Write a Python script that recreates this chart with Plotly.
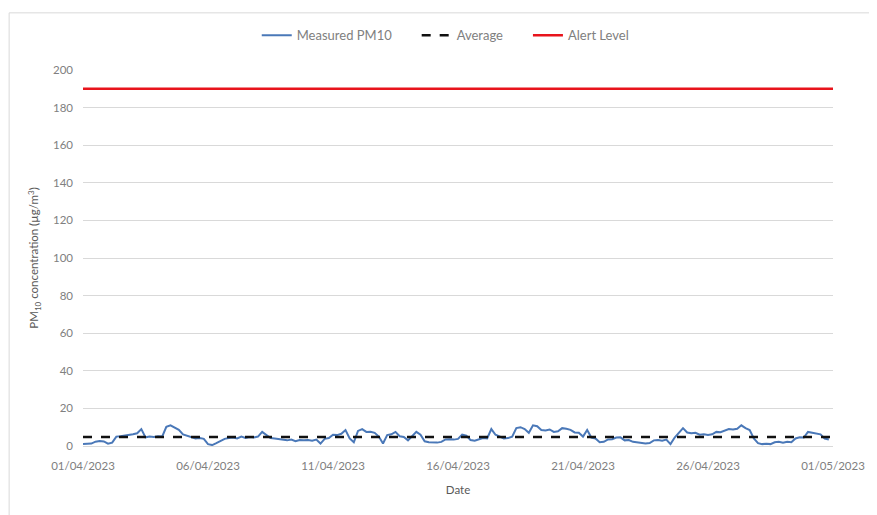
import pandas as pd
import plotly.graph_objects as go

# 4-hourly measured PM10 (µg/m³), 01/04/2023 00:00 to 30/04/2023 20:00, six readings per day
pm10_by_day = [
    [1.0, 1.1, 1.3, 2.3, 2.6, 2.4],
    [1.2, 1.8, 5.0, 5.2, 5.5, 6.0],
    [6.3, 6.8, 9.0, 4.6, 5.0, 4.8],
    [5.2, 5.0, 10.2, 11.0, 9.8, 8.6],
    [6.2, 5.5, 4.5, 4.0, 4.2, 3.8],
    [1.0, 0.5, 1.5, 2.5, 3.8, 4.2],
    [4.5, 4.0, 5.0, 4.3, 4.8, 4.5],
    [5.0, 7.5, 6.0, 4.2, 4.0, 3.8],
    [3.5, 3.0, 3.4, 2.6, 3.2, 3.0],
    [3.2, 2.8, 3.4, 1.3, 3.8, 4.2],
    [6.0, 5.8, 6.5, 8.5, 4.0, 2.0],
    [8.0, 9.0, 7.5, 7.6, 7.0, 5.0],
    [1.3, 5.8, 6.2, 7.5, 5.2, 4.8],
    [3.0, 5.5, 7.5, 6.0, 2.5, 2.0],
    [2.0, 1.8, 2.2, 3.5, 3.6, 3.4],
    [3.8, 6.0, 5.5, 3.2, 2.8, 3.5],
    [4.2, 4.0, 9.0, 6.0, 5.2, 4.0],
    [4.2, 5.0, 9.5, 10.0, 9.0, 7.0],
    [11.0, 10.5, 8.5, 8.2, 8.8, 7.5],
    [7.8, 9.5, 9.2, 8.6, 7.2, 7.0],
    [5.0, 8.5, 4.5, 4.0, 2.0, 2.2],
    [3.5, 3.6, 4.5, 4.6, 3.0, 3.2],
    [2.2, 2.0, 1.8, 1.3, 1.6, 3.0],
    [3.2, 2.8, 3.4, 1.0, 4.5, 7.0],
    [9.5, 7.2, 6.8, 7.0, 6.0, 6.2],
    [5.8, 6.2, 7.5, 7.3, 8.0, 9.0],
    [8.8, 9.2, 11.0, 9.5, 8.5, 4.0],
    [1.5, 1.0, 1.2, 1.0, 2.0, 2.2],
    [1.8, 2.2, 2.0, 4.0, 4.6, 4.5],
    [7.5, 7.0, 6.5, 6.2, 4.0, 3.5],
]
average_level = 4.8
alert_level = 190
series_names = ["Measured PM10", "Average", "Alert Level"]
start_date = "2023-04-01"
end_date = "2023-05-01"
tick_dates = ["2023-04-01", "2023-04-06", "2023-04-11", "2023-04-16",
              "2023-04-21", "2023-04-26", "2023-05-01"]
y_ticks = [0, 20, 40, 60, 80, 100, 120, 140, 160, 180, 200]

pm10 = [v for day in pm10_by_day for v in day]
times = pd.date_range(start_date, periods=len(pm10), freq="4h")
span = [pd.Timestamp(start_date), pd.Timestamp(end_date)]

FONT = "Lato, 'Open Sans', sans-serif"
DARK = "#595959"
LIGHT = "#808080"
PAD = "\u00a0" * 6  # spacing between legend entries

fig = go.Figure()
fig.add_trace(go.Scatter(x=times, y=pm10, mode="lines", name=series_names[0] + PAD,
                         line=dict(color="#4a78b8", width=2)))
fig.add_trace(go.Scatter(x=span, y=[average_level, average_level], mode="lines",
                         name=series_names[1] + PAD,
                         line=dict(color="#111111", width=2.5, dash="dash")))
fig.add_trace(go.Scatter(x=span, y=[alert_level, alert_level], mode="lines",
                         name=series_names[2], line=dict(color="#e8141c", width=2.5)))

fig.update_layout(
    width=877, height=515,
    margin=dict(l=75, r=52, t=58, b=77),
    paper_bgcolor="white", plot_bgcolor="white",
    font=dict(family=FONT, size=11, color=LIGHT),
    legend=dict(orientation="h", x=0.483, xanchor="center", y=1.092, yanchor="middle",
                font=dict(size=13, color=LIGHT), traceorder="normal"),
    showlegend=True,
    shapes=[dict(type="rect", xref="paper", yref="paper", x0=-0.0985, x1=1.3,
                 y0=-0.4, y1=1.152, line=dict(color="#d9d9d9", width=1),
                 fillcolor="rgba(0,0,0,0)", layer="below")],
)
fig.update_xaxes(range=span, tickvals=tick_dates, tickformat="%d/%m/%Y",
                 showgrid=False, showline=True, linecolor="#d9d9d9", linewidth=1,
                 ticks="", tickfont=dict(size=11.5, color=LIGHT), ticklabelstandoff=9,
                 title=dict(text="Date", font=dict(size=11.5, color=DARK), standoff=15))
fig.update_yaxes(range=[0, 200], tickvals=y_ticks, showgrid=True, gridcolor="#d9d9d9",
                 gridwidth=1, zeroline=False, showline=False, ticks="",
                 tickfont=dict(size=11.5, color=LIGHT), ticklabelstandoff=9,
                 title=dict(text="PM<sub>10</sub> concentration (µg/m<sup>3</sup>)",
                            font=dict(size=11.5, color=DARK), standoff=11))

fig.write_html("out.html")
